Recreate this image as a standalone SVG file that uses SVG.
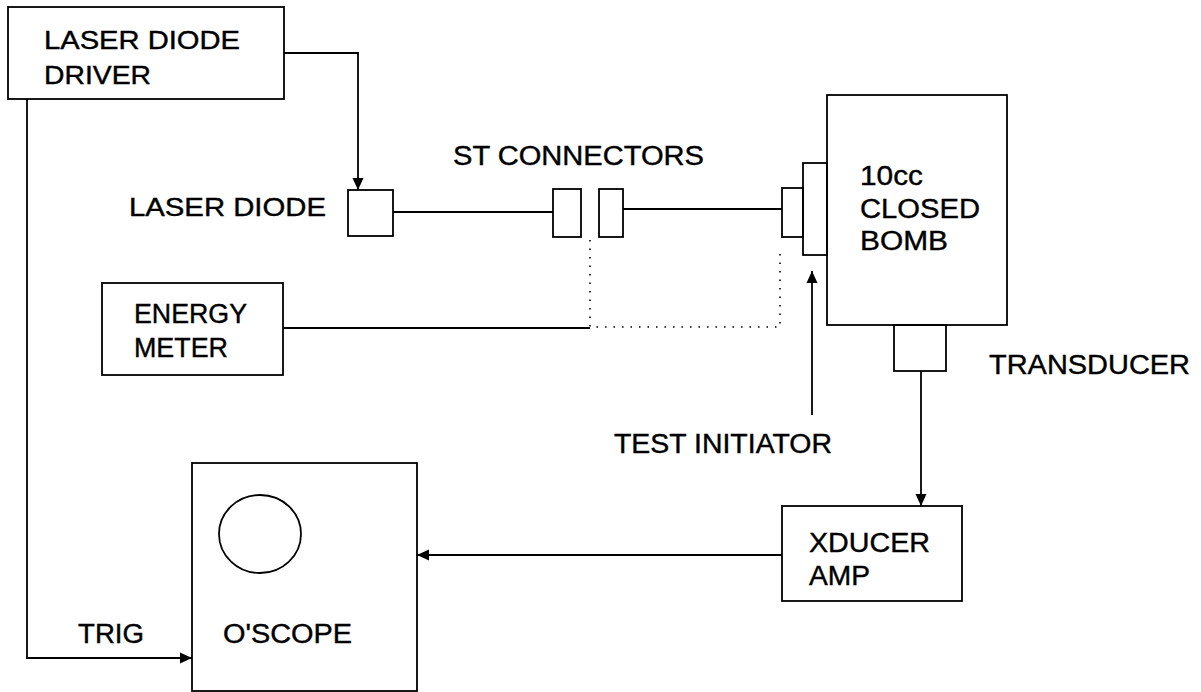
<svg xmlns="http://www.w3.org/2000/svg" width="1201" height="692" viewBox="0 0 1201 692">
<style>
.b{fill:none;stroke:#000;stroke-width:1.8}
.l{fill:none;stroke:#000;stroke-width:1.8}
.d{fill:none;stroke:#000;stroke-width:1.6;stroke-dasharray:1.5 7}
text{font-family:"Liberation Sans",Arial,sans-serif;font-size:27px;fill:#000;stroke:#000;stroke-width:0.4}
</style>
<defs>
<marker id="ah" viewBox="0 0 12 12" refX="12" refY="6" markerWidth="12" markerHeight="12" markerUnits="userSpaceOnUse" orient="auto">
<path d="M0,0.5 L12,6 L0,11.5 z" fill="#000"/>
</marker>
</defs>
<rect width="1201" height="692" fill="#fff"/>
<g id="driver"><rect class="b" x="8" y="7" width="276" height="92"/>
<text x="44" y="49" textLength="196" lengthAdjust="spacingAndGlyphs" style="font-size:25px">LASER DIODE</text>
<text x="44" y="84" textLength="107" lengthAdjust="spacingAndGlyphs" style="font-size:25px">DRIVER</text></g>
<g id="laserdiode"><rect class="b" x="348" y="190" width="45" height="46"/>
<text x="129" y="216" textLength="197" lengthAdjust="spacingAndGlyphs" style="font-size:25px">LASER DIODE</text></g>
<g id="stconnectors"><rect class="b" x="553" y="189" width="28" height="48"/><rect class="b" x="599" y="189" width="24" height="48"/>
<text x="453" y="165" textLength="251" lengthAdjust="spacingAndGlyphs">ST CONNECTORS</text></g>
<g id="bomb"><rect class="b" x="782" y="188" width="21" height="49"/><rect class="b" x="803" y="163" width="24" height="92"/>
<rect class="b" x="827" y="95" width="180" height="230"/>
<text x="860" y="185" textLength="63" lengthAdjust="spacingAndGlyphs">10cc</text>
<text x="860" y="218" textLength="120" lengthAdjust="spacingAndGlyphs">CLOSED</text>
<text x="860" y="250" textLength="88" lengthAdjust="spacingAndGlyphs">BOMB</text></g>
<g id="transducer"><rect class="b" x="894" y="325" width="52" height="46"/>
<text x="989" y="374" textLength="201" lengthAdjust="spacingAndGlyphs">TRANSDUCER</text></g>
<g id="energymeter"><rect class="b" x="102" y="283" width="181" height="92"/>
<text x="134" y="323" textLength="113" lengthAdjust="spacingAndGlyphs">ENERGY</text>
<text x="134" y="357" textLength="94" lengthAdjust="spacingAndGlyphs">METER</text></g>
<g id="testinitiator"><text x="614" y="453" textLength="218" lengthAdjust="spacingAndGlyphs">TEST INITIATOR</text></g>
<g id="xducer"><rect class="b" x="782" y="506" width="180" height="95"/>
<text x="809" y="552" textLength="121" lengthAdjust="spacingAndGlyphs">XDUCER</text>
<text x="809" y="585" textLength="61" lengthAdjust="spacingAndGlyphs">AMP</text></g>
<g id="oscope"><rect class="b" x="192" y="463" width="225" height="228"/>
<ellipse class="b" cx="260" cy="534" rx="41" ry="39"/>
<text x="223" y="643" textLength="129" lengthAdjust="spacingAndGlyphs">O'SCOPE</text></g>
<g id="trig"><text x="78" y="643" textLength="66" lengthAdjust="spacingAndGlyphs">TRIG</text></g>
<g id="connectors">
<path class="l" d="M284,53 H358 V190" marker-end="url(#ah)"/>
<path class="l" d="M27,99 V658 H192" marker-end="url(#ah)"/>
<path class="l" d="M393,212 H553"/>
<path class="l" d="M623,209 H782"/>
<path class="l" d="M283,328 H590"/>
<path class="d" d="M590,240 V327 H780 V253"/>
<path class="l" d="M812,415 V271" marker-end="url(#ah)"/>
<path class="l" d="M921,371 V506" marker-end="url(#ah)"/>
<path class="l" d="M782,555 H417" marker-end="url(#ah)"/>
</g>
</svg>
